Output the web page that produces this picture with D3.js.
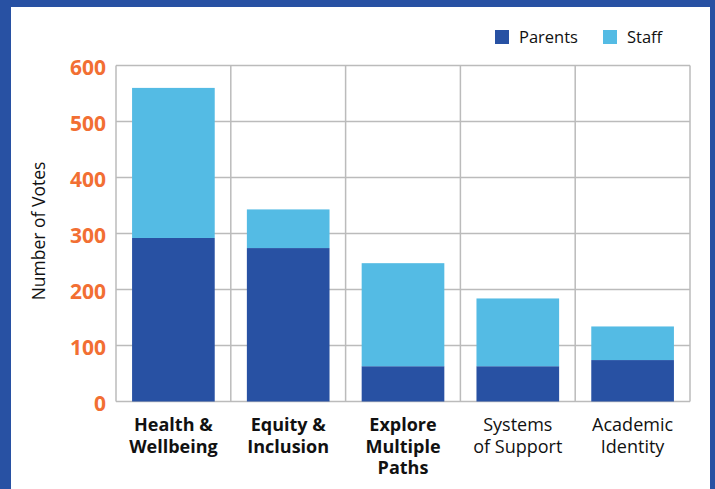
<!DOCTYPE html>
<html>
<head>
<meta charset="utf-8">
<script src="https://cdn.jsdelivr.net/npm/d3@7"></script>
<style>
  html, body { margin: 0; padding: 0; background: #fff; }
  svg { display: block; }
</style>
</head>
<body>
<svg id="chart"></svg>
<script>
// categories, one array of label lines each, and which ones are bold
const categories = ["Health & Wellbeing", "Equity & Inclusion", "Explore Multiple Paths", "Systems of Support", "Academic Identity"];
const labelLines = [["Health &", "Wellbeing"], ["Equity &", "Inclusion"], ["Explore", "Multiple", "Paths"], ["Systems", "of Support"], ["Academic", "Identity"]];
const boldLabels = [true, true, true, false, false];

// series values
const parents = [292, 274, 63, 63, 74];
const staff = [268, 69, 184, 121, 60];

const seriesNames = ["Parents", "Staff"];
const yTicks = [0, 100, 200, 300, 400, 500, 600];

const W = 715, H = 489;
const colors = { Parents: "#2851a3", Staff: "#54bbe4" };
const border = "#2851a3";
const font = "'Open Sans', 'DejaVu Sans', sans-serif";

const svg = d3.select("#chart").attr("width", W).attr("height", H);

// frame
svg.append("rect").attr("width", W).attr("height", H).attr("fill", border);
svg.append("rect").attr("x", 11).attr("y", 7).attr("width", 710 - 11).attr("height", H - 7).attr("fill", "#fff");

// plot bounds
const pLeft = 116, pRight = 690, pTop = 65.5, pBottom = 401.5;

const x = d3.scaleBand()
    .domain(categories)
    .range([pLeft, pRight])
    .paddingInner(0.28)
    .paddingOuter(0.14);

const y = d3.scaleLinear().domain([0, 600]).range([pBottom, pTop]);

// build stacked table from the arrays
const table = categories.map((c, i) => ({ cat: c, Parents: parents[i], Staff: staff[i] }));
const stacked = d3.stack().keys(seriesNames)(table);

// gridlines
const grid = svg.append("g");
grid.selectAll(".h").data(yTicks).enter().append("line")
    .attr("x1", pLeft).attr("x2", pRight)
    .attr("y1", d => y(d)).attr("y2", d => y(d))
    .attr("stroke", "#bbbbbb").attr("stroke-width", 1.5);

const colW = (pRight - pLeft) / categories.length;
grid.selectAll(".v").data(d3.range(categories.length + 1)).enter().append("line")
    .attr("x1", d => pLeft + d * colW)
    .attr("x2", d => pLeft + d * colW)
    .attr("y1", pTop).attr("y2", pBottom)
    .attr("stroke", "#bbbbbb").attr("stroke-width", 1.5);

// bars
svg.append("g").selectAll("g").data(stacked).enter().append("g")
    .attr("fill", d => colors[d.key])
    .selectAll("rect").data(d => d).enter().append("rect")
    .attr("x", d => x(d.data.cat))
    .attr("width", x.bandwidth())
    .attr("y", d => y(d[1]))
    .attr("height", d => y(d[0]) - y(d[1]));

// y axis
const yAxis = d3.axisLeft(y).tickValues(yTicks).tickSize(0).tickPadding(10);
const gY = svg.append("g").attr("transform", `translate(${pLeft},0)`).call(yAxis);
gY.select(".domain").remove();
gY.selectAll("text")
    .attr("fill", "#f26f33")
    .attr("font-family", font)
    .attr("font-weight", "bold")
    .attr("font-size", 21)
    .attr("dy", "0.45em");

// y title
svg.append("text")
    .attr("transform", `translate(45,231) rotate(-90)`)
    .attr("text-anchor", "middle")
    .attr("font-family", font)
    .attr("font-size", 17.5)
    .attr("fill", "#111")
    .text("Number of Votes");

// x labels
const xl = svg.append("g").selectAll("text").data(categories).enter().append("text")
    .attr("x", d => x(d) + x.bandwidth() / 2)
    .attr("y", 431)
    .attr("text-anchor", "middle")
    .attr("font-family", font)
    .attr("font-size", 18)
    .attr("font-weight", (d, i) => boldLabels[i] ? "bold" : "normal")
    .attr("fill", "#111");
xl.each(function (d, i) {
    const t = d3.select(this);
    labelLines[i].forEach((line, j) => {
        t.append("tspan")
            .attr("x", x(d) + x.bandwidth() / 2)
            .attr("y", 431 + j * 21.7)
            .text(line);
    });
});

// legend
const legendX = [495, 603];
const lg = svg.append("g").selectAll("g").data(seriesNames).enter().append("g")
    .attr("transform", (d, i) => `translate(${legendX[i]},30)`);
lg.append("rect").attr("width", 14).attr("height", 14).attr("fill", d => colors[d]);
lg.append("text")
    .attr("x", 24).attr("y", 12.5)
    .attr("font-family", font)
    .attr("font-size", 16.5)
    .attr("fill", "#111")
    .text(d => d);
</script>
</body>
</html>
